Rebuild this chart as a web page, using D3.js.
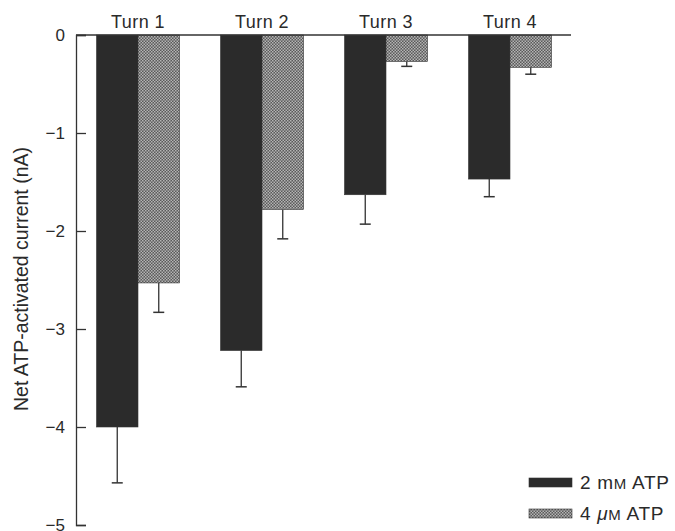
<!DOCTYPE html>
<html>
<head>
<meta charset="utf-8">
<script src="https://cdn.jsdelivr.net/npm/d3@7"></script>
<style>
  body { margin: 0; background: #fff; }
  text { font-family: "Liberation Sans", Arial, sans-serif; fill: #2a2a2a; }
</style>
</head>
<body>
<script>
// data
const turns = ["Turn 1", "Turn 2", "Turn 3", "Turn 4"];
const series = ["mM", "uM"];
const mMValues = [-4.0, -3.22, -1.63, -1.47];
const mMErrors = [0.57, 0.37, 0.30, 0.18];
const uMValues = [-2.53, -1.78, -0.27, -0.33];
const uMErrors = [0.30, 0.30, 0.05, 0.07];
const yTicks = [0, -1, -2, -3, -4, -5];

const W = 675, H = 531;
const svg = d3.select("body").append("svg")
  .attr("width", W).attr("height", H);

// checker pattern for the 4 uM bars
const defs = svg.append("defs");
const pat = defs.append("pattern")
  .attr("id", "checker")
  .attr("width", 3).attr("height", 3)
  .attr("patternUnits", "userSpaceOnUse");
pat.append("rect").attr("width", 3).attr("height", 3).attr("fill", "#5a5a5a");
pat.append("rect").attr("width", 1.5).attr("height", 1.5).attr("fill", "#b4b4b4");
pat.append("rect").attr("x", 1.5).attr("y", 1.5).attr("width", 1.5).attr("height", 1.5).attr("fill", "#b4b4b4");

const fills = { mM: "#2b2b2b", uM: "url(#checker)" };

const yScale = d3.scaleLinear().domain([0, -5]).range([35, 525]);
const xScale = d3.scaleBand().domain(turns).range([76, 572]).padding(0);
const xInner = d3.scaleBand().domain(series).range([20.5, 103.5]).padding(0);

const rows = turns.map((t, i) => ({
  turn: t,
  vals: [
    { s: "mM", v: mMValues[i], e: mMErrors[i] },
    { s: "uM", v: uMValues[i], e: uMErrors[i] }
  ]
}));

const groups = svg.selectAll("g.grp")
  .data(rows)
  .enter().append("g")
  .attr("class", "grp")
  .attr("transform", d => "translate(" + xScale(d.turn) + ",0)");

// error bars (downward only)
groups.selectAll("line.err")
  .data(d => d.vals)
  .enter().append("line")
  .attr("x1", d => xInner(d.s) + xInner.bandwidth() / 2)
  .attr("x2", d => xInner(d.s) + xInner.bandwidth() / 2)
  .attr("y1", d => yScale(d.v))
  .attr("y2", d => yScale(d.v - d.e))
  .attr("stroke", "#333").attr("stroke-width", 1.3);

groups.selectAll("line.cap")
  .data(d => d.vals)
  .enter().append("line")
  .attr("x1", d => xInner(d.s) + xInner.bandwidth() / 2 - 5.5)
  .attr("x2", d => xInner(d.s) + xInner.bandwidth() / 2 + 5.5)
  .attr("y1", d => yScale(d.v - d.e))
  .attr("y2", d => yScale(d.v - d.e))
  .attr("stroke", "#333").attr("stroke-width", 1.5);

groups.selectAll("rect")
  .data(d => d.vals)
  .enter().append("rect")
  .attr("x", d => xInner(d.s))
  .attr("width", xInner.bandwidth())
  .attr("y", yScale(0))
  .attr("height", d => yScale(d.v) - yScale(0))
  .attr("fill", d => fills[d.s])
  .attr("stroke", "#333").attr("stroke-width", 0.6);

// zero line across top
svg.append("line")
  .attr("x1", 76).attr("x2", 571)
  .attr("y1", yScale(0)).attr("y2", yScale(0))
  .attr("stroke", "#333").attr("stroke-width", 1.3);

// y axis, ticks pointing inward
const yAxis = d3.axisRight(yScale)
  .tickValues(yTicks)
  .tickSize(10)
  .tickFormat(d => d === 0 ? "0" : "\u2212" + Math.abs(d));
const ya = svg.append("g")
  .attr("transform", "translate(76,0)")
  .call(yAxis);
ya.select(".domain").attr("stroke", "#333").attr("stroke-width", 1.3);
ya.selectAll(".tick line").attr("stroke", "#333").attr("stroke-width", 1.3);
ya.selectAll(".tick text")
  .attr("x", -11)
  .attr("text-anchor", "end")
  .attr("font-size", 17)
  .attr("fill", "#2a2a2a");

// turn labels on top
svg.selectAll("text.turn")
  .data(turns)
  .enter().append("text")
  .attr("class", "turn")
  .attr("x", d => xScale(d) + xScale.bandwidth() / 2)
  .attr("y", 28)
  .attr("text-anchor", "middle")
  .attr("font-size", 18)
  .attr("letter-spacing", 0.4)
  .text(d => d);

// y axis title
svg.append("text")
  .attr("transform", "translate(28,279) rotate(-90)")
  .attr("text-anchor", "middle")
  .attr("font-size", 19.5)
  .text("Net ATP-activated current (nA)");

// legend
const legend = svg.selectAll("g.legend")
  .data(series)
  .enter().append("g")
  .attr("class", "legend")
  .attr("transform", (d, i) => "translate(529," + (478 + i * 31) + ")");
legend.append("rect")
  .attr("width", 43).attr("height", 9)
  .attr("fill", d => fills[d])
  .attr("stroke", "#333").attr("stroke-width", 0.6);

const lt = legend.append("text")
  .attr("x", 51).attr("y", 11)
  .attr("font-size", 19)
  .attr("letter-spacing", 0.7);
lt.each(function(d) {
  const t = d3.select(this);
  if (d === "mM") {
    t.append("tspan").text("2 m");
    t.append("tspan").attr("font-size", 15).text("M");
    t.append("tspan").text(" ATP");
  } else {
    t.append("tspan").text("4 ");
    t.append("tspan").attr("font-style", "italic").text("\u03bc");
    t.append("tspan").attr("font-size", 15).text("M");
    t.append("tspan").text(" ATP");
  }
});
</script>
</body>
</html>
